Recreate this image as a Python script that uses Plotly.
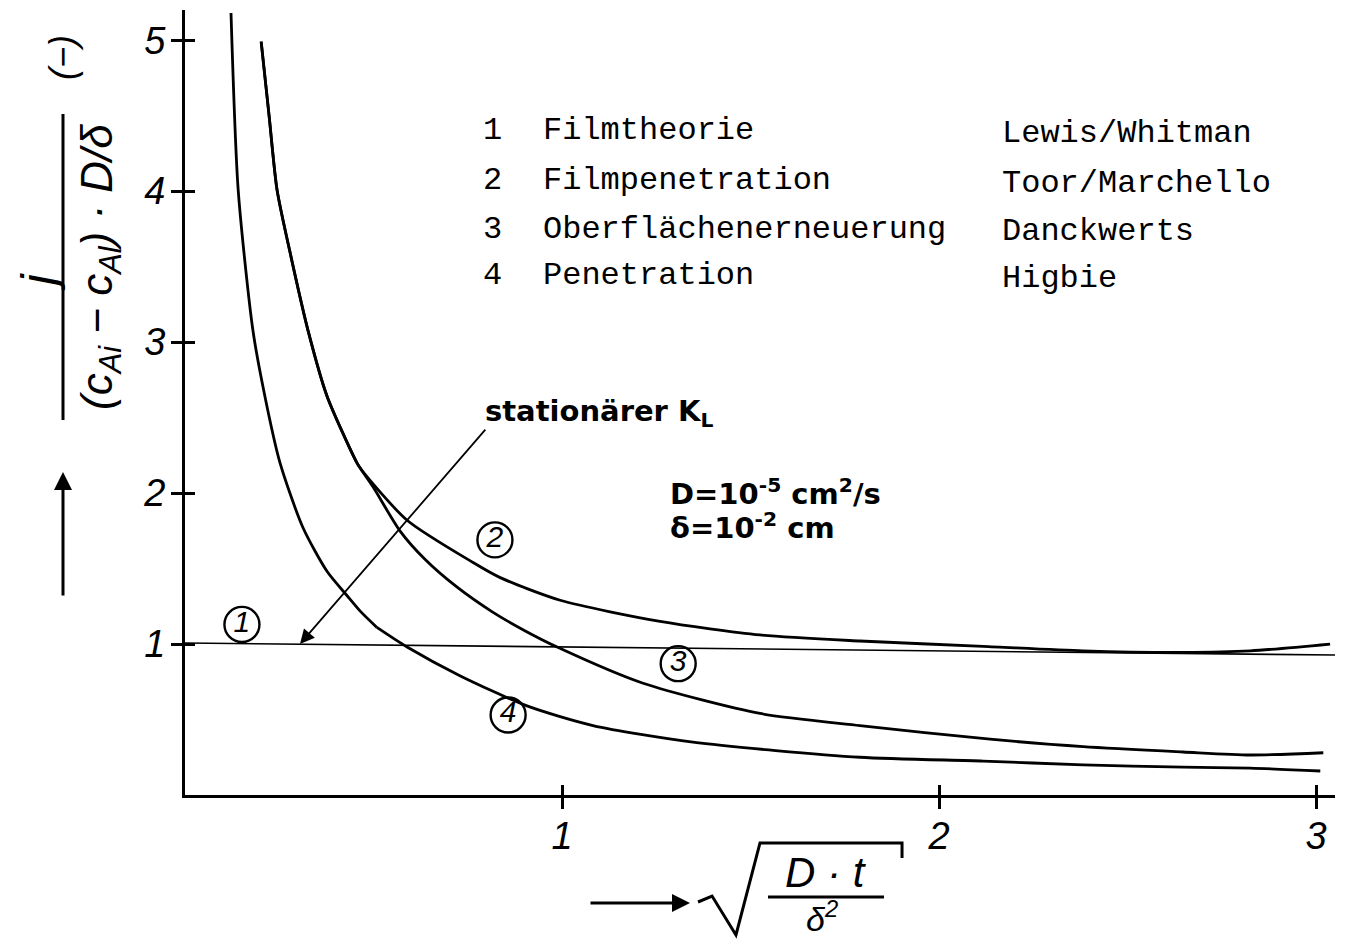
import plotly.graph_objects as go

# ---------------- data ----------------
# curve 4: Penetration (Higbie) - upper branch and lower branch (kink between)
c4_upper_x = [0.122, 0.141, 0.180, 0.212, 0.252, 0.313, 0.377, 0.430, 0.464, 0.509]
c4_upper_y = [5.18, 4.01, 3.08, 2.64, 2.20, 1.77, 1.48, 1.32, 1.22, 1.11]
c4_lower_x = [0.509, 0.589, 0.729, 0.907, 1.082, 1.347, 1.790, 2.117, 2.382, 2.647, 2.825, 3.011]
c4_lower_y = [1.11, 0.98, 0.79, 0.59, 0.46, 0.35, 0.25, 0.225, 0.199, 0.185, 0.178, 0.159]

# common upper part of curves 2 and 3
c23_x = [0.202, 0.223, 0.244, 0.279, 0.326, 0.377, 0.456, 0.469]
c23_y = [4.99, 4.50, 4.01, 3.59, 3.08, 2.64, 2.20, 2.15]

# curve 2: Filmpenetration (Toor/Marchello)
c2_x = [0.589, 0.764, 0.836, 0.995, 1.260, 1.525, 1.790, 2.117, 2.382, 2.647, 2.825, 3.037]
c2_y = [1.82, 1.54, 1.44, 1.29, 1.15, 1.06, 1.02, 0.985, 0.955, 0.945, 0.955, 1.00]

# curve 3: Oberflaechenerneuerung (Danckwerts)
c3_x = [0.499, 0.570, 0.637, 0.720, 0.817, 0.900, 0.987, 1.215, 1.525, 1.790, 2.135, 2.382, 2.647, 2.825, 3.019]
c3_y = [2.04, 1.75, 1.56, 1.38, 1.21, 1.09, 0.98, 0.74, 0.54, 0.46, 0.37, 0.32, 0.285, 0.265, 0.28]

# curve 1: Filmtheorie (Lewis/Whitman), stationary K_L
c1_x = [0.0, 3.05]
c1_y = [1.007, 0.927]

x_ticks = [1, 2, 3]
x_tick_labels = ["1", "2", "3"]
y_ticks = [1, 2, 3, 4, 5]
y_tick_labels = ["1", "2", "3", "4", "5"]

legend_numbers = ["1", "2", "3", "4"]
legend_names = ["Filmtheorie", "Filmpenetration", "Oberflächenerneuerung", "Penetration"]
legend_authors = ["Lewis/Whitman", "Toor/Marchello", "Danckwerts", "Higbie"]

label_text = ["1", "2", "3", "4"]
label_x = [0.151, 0.822, 1.308, 0.857]
label_y = [1.13, 1.69, 0.87, 0.53]

# ---------------- figure ----------------
W, H = 1345, 943
L, R, T, B = 185, 10, 10, 148
PW, PH = W - L - R, H - T - B


def px(xp):
    return (xp - L) / PW


def py(yp):
    return (H - B - yp) / PH


fig = go.Figure()
line_style = dict(color="black", width=2.8, shape="spline", smoothing=0.7)

fig.add_trace(go.Scatter(x=c1_x, y=c1_y, mode="lines", line=dict(color="black", width=1.6)))
fig.add_trace(go.Scatter(x=c4_upper_x, y=c4_upper_y, mode="lines", line=line_style))
fig.add_trace(go.Scatter(x=c4_lower_x, y=c4_lower_y, mode="lines", line=line_style))
fig.add_trace(go.Scatter(x=c23_x + c2_x, y=c23_y + c2_y, mode="lines", line=line_style))
fig.add_trace(go.Scatter(x=c23_x + c3_x, y=c23_y + c3_y, mode="lines", line=line_style))

# circled curve numbers
fig.add_trace(go.Scatter(
    x=label_x, y=label_y, mode="markers+text", text=label_text,
    textposition="middle center",
    textfont=dict(family="Liberation Sans", size=30, color="black", style="italic"),
    marker=dict(symbol="circle-open", size=35, color="black", line=dict(width=2.4, color="black")),
))

# invisible traces for the crossing-tick overlay axes
fig.add_trace(go.Scatter(x=[0], y=[0], xaxis="x2", yaxis="y", mode="markers", marker=dict(opacity=0)))
fig.add_trace(go.Scatter(x=[0], y=[0], xaxis="x", yaxis="y2", mode="markers", marker=dict(opacity=0)))

tickfont = dict(family="Liberation Sans", size=38, color="black", style="italic")
common = dict(showgrid=False, zeroline=False, showline=True, linecolor="black", linewidth=3,
              tickwidth=3, tickcolor="black")

fig.update_layout(
    width=W, height=H, autosize=False,
    margin=dict(l=L, r=R, t=T, b=B),
    paper_bgcolor="white", plot_bgcolor="white",
    showlegend=False,
    xaxis=dict(range=[0, 3.05], tickvals=x_ticks, ticktext=x_tick_labels, ticks="outside",
               ticklen=11, tickfont=tickfont, ticklabelstandoff=-6, **common),
    yaxis=dict(range=[0, 5.2], tickvals=y_ticks, ticktext=y_tick_labels, ticks="outside",
               ticklen=11, tickfont=tickfont, ticklabelstandoff=-2, **common),
    xaxis2=dict(range=[0, 3.05], overlaying="x", anchor="y", side="bottom", tickvals=x_ticks,
                ticks="inside", ticklen=10, showticklabels=False, **common),
    yaxis2=dict(range=[0, 5.2], overlaying="y", anchor="x", side="left", tickvals=y_ticks,
                ticks="inside", ticklen=10, showticklabels=False, **common),
)

ann = []
mono = dict(family="Liberation Mono", size=32, color="black")
name_rows = [131, 181, 229, 275]
author_rows = [134, 184, 231, 278]
for i in range(4):
    ann.append(dict(x=px(492), y=py(name_rows[i]), xref="paper", yref="paper", text=legend_numbers[i],
                    showarrow=False, xanchor="center", yanchor="middle", font=mono))
    ann.append(dict(x=px(541), y=py(name_rows[i]), xref="paper", yref="paper", text=legend_names[i],
                    showarrow=False, xanchor="left", yanchor="middle", font=mono))
    ann.append(dict(x=px(1000), y=py(author_rows[i]), xref="paper", yref="paper", text=legend_authors[i],
                    showarrow=False, xanchor="left", yanchor="middle", font=mono))

bold = dict(family="DejaVu Sans", size=29, color="black", weight="bold")
ann.append(dict(x=0.79, y=2.53, xref="x", yref="y", text="stationärer K<sub>L</sub>", showarrow=False,
                xanchor="left", yanchor="middle", font=bold))
ann.append(dict(x=0.305, y=1.0, xref="x", yref="y", ax=0.80, ay=2.43, axref="x", ayref="y", text="",
                showarrow=True, arrowhead=2, arrowsize=1.6, arrowwidth=1.8, arrowcolor="black"))
bold2 = dict(family="DejaVu Sans", size=29, color="black", weight="bold")
ann.append(dict(x=1.281, y=2.01, xref="x", yref="y", text="D=10<sup>-5</sup> cm<sup>2</sup>/s",
                showarrow=False, xanchor="left", yanchor="middle", font=bold2))
ann.append(dict(x=1.281, y=1.78, xref="x", yref="y", text="δ=10<sup>-2</sup> cm",
                showarrow=False, xanchor="left", yanchor="middle", font=bold2))

# y-axis title (rotated fraction)
ital = dict(family="Liberation Sans", color="black", style="italic")
ann.append(dict(x=px(63), y=py(58), xref="paper", yref="paper", text="(−)", textangle=-90,
                showarrow=False, xanchor="center", yanchor="middle", font=dict(size=36, **ital)))
ann.append(dict(x=px(38), y=py(282), xref="paper", yref="paper", text="j", textangle=-90,
                showarrow=False, xanchor="center", yanchor="middle", font=dict(size=48, **ital)))
ann.append(dict(x=px(100), y=py(267), xref="paper", yref="paper",
                text="(c<sub>Ai</sub> − c<sub>Al</sub>) · D/δ", textangle=-90,
                showarrow=False, xanchor="center", yanchor="middle", font=dict(size=44, **ital)))
ann.append(dict(x=px(63), y=py(472), xref="paper", yref="paper", ax=0, ay=125, text="",
                showarrow=True, arrowhead=2, arrowsize=1.2, arrowwidth=3, arrowcolor="black"))

# x-axis title
ann.append(dict(x=px(690), y=py(903), xref="paper", yref="paper", ax=-101, ay=0, text="",
                showarrow=True, arrowhead=2, arrowsize=1.2, arrowwidth=3, arrowcolor="black"))
ann.append(dict(x=px(826), y=py(872), xref="paper", yref="paper", text="D · t",
                showarrow=False, xanchor="center", yanchor="middle", font=dict(size=42, **ital)))
ann.append(dict(x=px(822), y=py(916), xref="paper", yref="paper", text="δ<sup>2</sup>",
                showarrow=False, xanchor="center", yanchor="middle", font=dict(size=34, **ital)))
fig.update_layout(annotations=ann)

shapes = []
shapes.append(dict(type="line", xref="paper", yref="paper", x0=px(63), x1=px(63), y0=py(114), y1=py(420),
                   line=dict(color="black", width=3)))
sq = [(698, 902), (712, 896), (736, 935), (760, 843), (902, 843), (902, 858)]
path = "M " + " L ".join(f"{px(a):.4f},{py(b):.4f}" for a, b in sq)
shapes.append(dict(type="path", xref="paper", yref="paper", path=path, line=dict(color="black", width=3)))
shapes.append(dict(type="line", xref="paper", yref="paper", x0=px(768), x1=px(884), y0=py(897), y1=py(897),
                   line=dict(color="black", width=3)))
fig.update_layout(shapes=shapes)

fig.write_html("out.html")
